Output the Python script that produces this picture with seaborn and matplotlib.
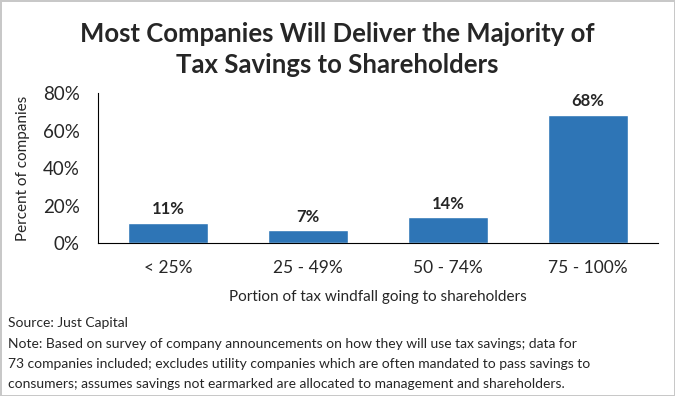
import pandas as pd
import matplotlib.pyplot as plt
import seaborn as sns

# Data
categories = ['< 25%', '25 - 49%', '50 - 74%', '75 - 100%']
share_pct = [11.0, 6.8, 13.7, 68.5]
bar_labels = ['11%', '7%', '14%', '68%']
y_ticks = [0, 20, 40, 60, 80]

title = 'Most Companies Will Deliver the Majority of\nTax Savings to Shareholders'
source_note = 'Source: Just Capital'
note_lines = [
    'Note: Based on survey of company announcements on how they will use tax savings; data for',
    '73 companies included; excludes utility companies which are often mandated to pass savings to',
    'consumers; assumes savings not earmarked are allocated to management and shareholders.',
]

df = pd.DataFrame({'Portion': categories, 'Percent': share_pct})

sns.set_style('white')
plt.rcParams['font.family'] = ['Lato', 'DejaVu Sans']

fig = plt.figure(figsize=(6.75, 3.96), dpi=100)
fig.patch.set_edgecolor('#c8c8c8')
fig.patch.set_linewidth(2)
ax = fig.add_axes([0.145, 0.386, 0.83, 0.379])

sns.barplot(data=df, x='Portion', y='Percent', color='#2E75B6', width=0.57,
            saturation=1, ax=ax)

for i, (v, lab) in enumerate(zip(share_pct, bar_labels)):
    ax.text(i, v + 3, lab, ha='center', va='bottom', fontsize=12, fontweight='bold')

ax.set_ylim(0, 80)
ax.set_yticks(y_ticks)
ax.set_yticklabels([f'{t}%' for t in y_ticks], fontsize=13.5)
ax.tick_params(axis='y', length=4, width=1, color='black', direction='in', pad=13)
ax.tick_params(axis='x', length=0, labelsize=12.5, pad=12)
ax.set_xlabel('Portion of tax windfall going to shareholders', fontsize=11, labelpad=10)
ax.set_ylabel('Percent of companies', fontsize=11, labelpad=9)

sns.despine(ax=ax)
ax.spines['left'].set_color('black')
ax.spines['bottom'].set_color('black')

fig.text(0.5, 0.874, title, ha='center', va='center', fontsize=18.5, fontweight='bold',
         linespacing=1.35)

fig.text(0.012, 0.185, source_note, ha='left', va='center', fontsize=10)
for k, line in enumerate(note_lines):
    fig.text(0.012, 0.132 - k * 0.051, line, ha='left', va='center', fontsize=10)

fig.savefig('out.png', dpi=100)
